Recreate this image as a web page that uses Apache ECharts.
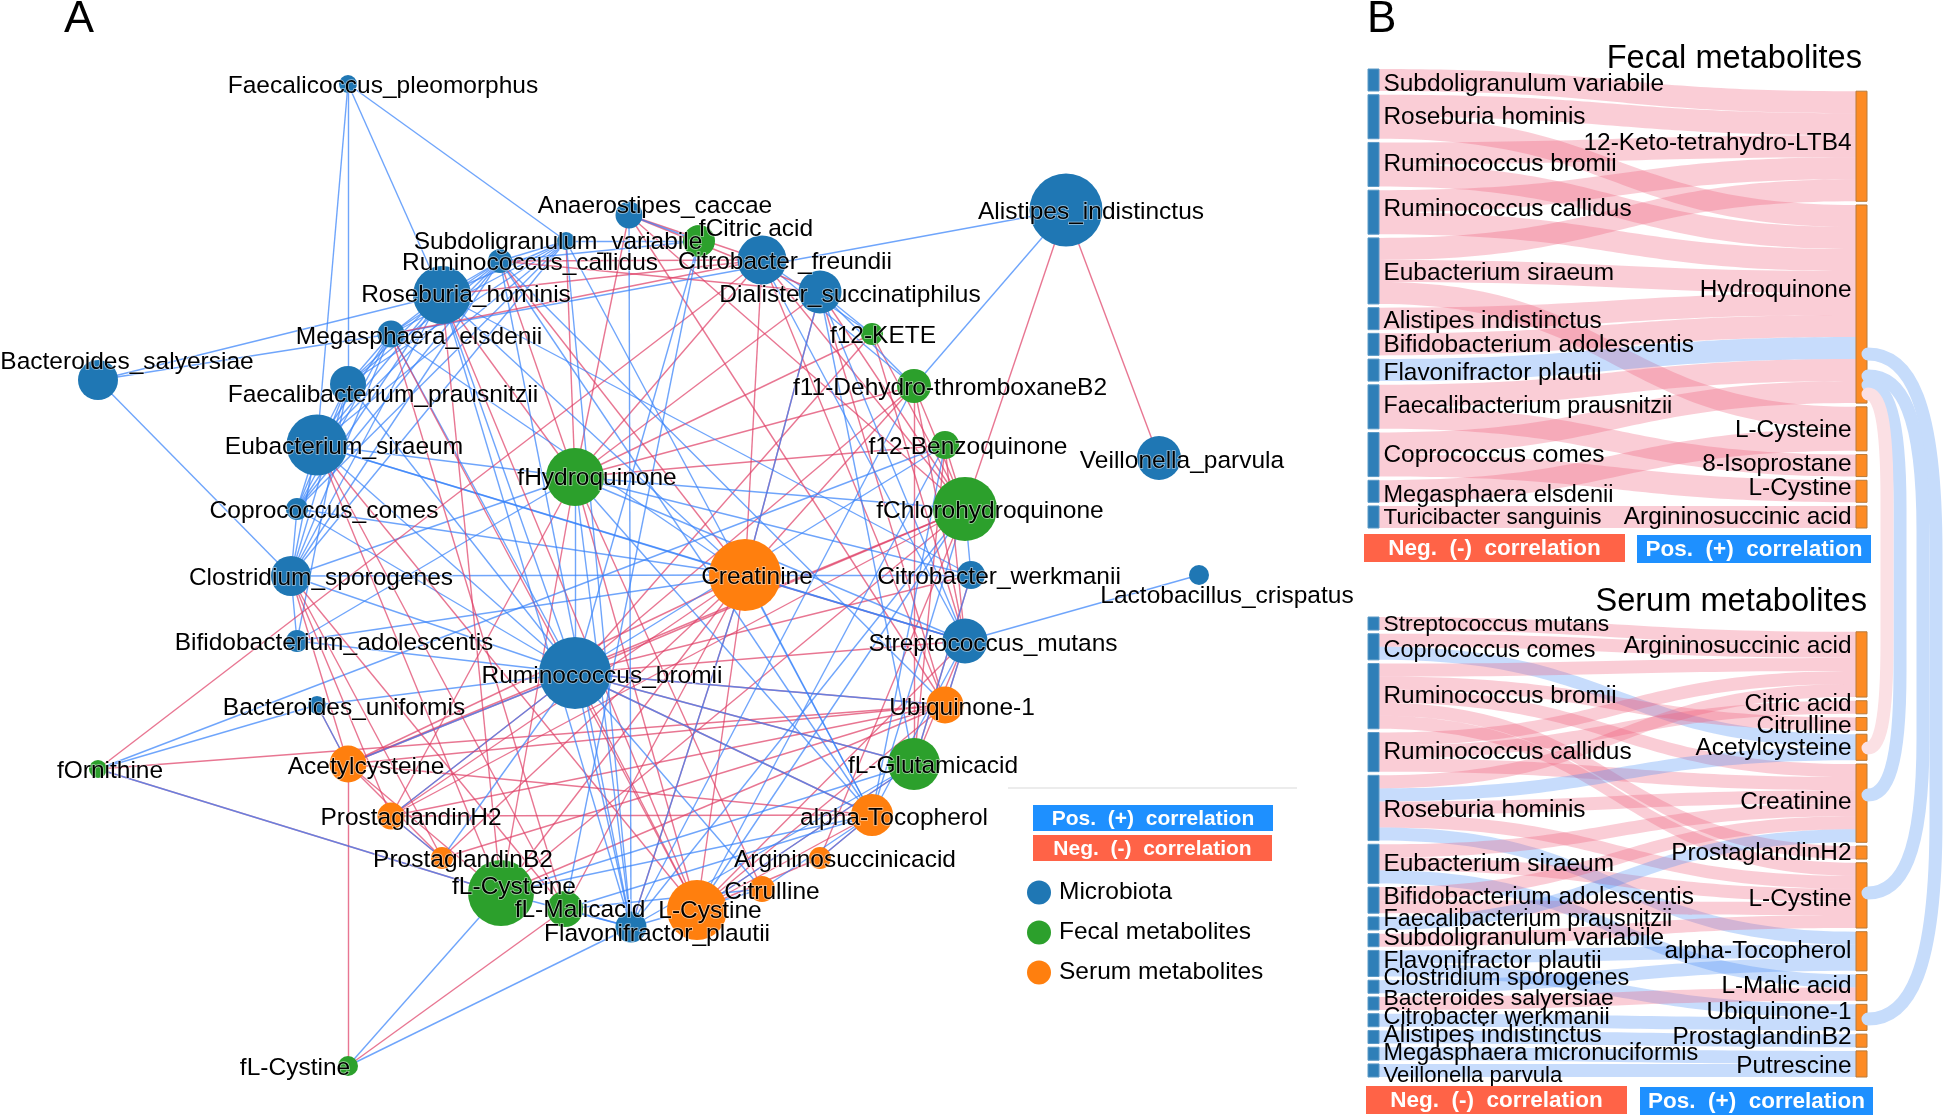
<!DOCTYPE html>
<html><head><meta charset="utf-8">
<style>html,body{margin:0;background:#fff}#c{width:1944px;height:1118px}</style>
<script src="https://cdn.jsdelivr.net/npm/echarts@6/dist/echarts.min.js"></script>
</head><body><div id="c"></div>
<script>
// ---------- Panel A: network ----------
const groupNames = ['Microbiota','Fecal metabolites','Serum metabolites'];
const nodeKeys = ['Fp','An','Sv','Rc','Rh','Me','Bs','Fa','Es','Cc','Cs','Ba','Bu','Rb','Fl','Cf','Ds','Ai','Vp','Cw','Lc','Sm',
  'fHq','fCi','f12K','f11','f12B','fCh','fGl','fCy','fMa','fLC','fOr',
  'Cr','Ub','At','Ar','Ci','Ly','Pb','Ph','Ac'];
const nodeNames = ['Faecalicoccus_pleomorphus','Anaerostipes_caccae','Subdoligranulum_variabile','Ruminococcus_callidus','Roseburia_hominis','Megasphaera_elsdenii','Bacteroides_salyersiae','Faecalibacterium_prausnitzii','Eubacterium_siraeum','Coprococcus_comes','Clostridium_sporogenes','Bifidobacterium_adolescentis','Bacteroides_uniformis','Ruminococcus_bromii','Flavonifractor_plautii','Citrobacter_freundii','Dialister_succinatiphilus','Alistipes_indistinctus','Veillonella_parvula','Citrobacter_werkmanii','Lactobacillus_crispatus','Streptococcus_mutans',
  'fHydroquinone','fCitric acid','f12-KETE','f11-Dehydro-thromboxaneB2','f12-Benzoquinone','fChlorohydroquinone','fL-Glutamicacid','fL-Cysteine','fL-Malicacid','fL-Cystine','fOrnithine',
  'Creatinine','Ubiquinone-1','alpha-Tocopherol','Argininosuccinicacid','Citrulline','L-Cystine','ProstaglandinB2','ProstaglandinH2','Acetylcysteine'];
const nodeGroup = [0,0,0,0,0,0,0,0,0,0,0,0,0,0,0,0,0,0,0,0,0,0, 1,1,1,1,1,1,1,1,1,1,1, 2,2,2,2,2,2,2,2,2];
const nodeSize = [18,27,18,24,58,27,40,36,61,22,40,22,18,72,31,49,43,73,44,28,20,45, 58,32,22,34,28,64,52,66,36,20,18, 72,37,42,22,26,60,22,27,37];
const nodeX = [348,629,566,500,442,391,98,348,317,297,291,297,317,575,631,762,820,1066,1159,971,1199,965, 575,699,872,914,945,965,914,501,565,348,98, 745,945,872,820,762,697,442,391,348];
const nodeY = [84,215,241,261,295,334,380,384,445,509,576,641,705,673,927,260,292,210,458,575,575,641, 477,241,334,386,445,509,764,893,909,1066,769, 575,705,815,858,889,910,858,816,764];
const labelX = [383,655,558,530,466,419,127,383,344,324,321,334,344,602,657,785,850,1091,1182,999,1227,993, 597,756,883,950,968,990,933,514,580,295,110, 757,962,894,845,772,710,463,411,366];
const labelY = [86,206,242,263,295,337,362,395,447,511,578,643,708,676,934,262,295,212,461,577,596,644, 478,229,336,388,447,511,766,887,910,1068,771, 577,708,818,860,892,911,860,818,767];

const posEdges = ('Fp-Sv Fp-Rh Fp-Fa Fp-Es Sv-Rc Sv-Rh Sv-Me Sv-Fa Sv-Es Sv-Cc Sv-Cs Rc-Rh Rc-Me Rc-Fa Rc-Es Rc-Cc Rc-Cs Rh-Me Rh-Fa Rh-Es Rh-Cc Rh-Cs Rh-Bs '+
 'Me-Fa Me-Es Me-Cc Me-Cs Me-Bs Me-Ai Fa-Es Fa-Cc Fa-Cs Es-Cc Es-Cs Cc-Cs Cs-Ba Cs-Bs Fa-Ba Rb-Cs Rb-Es Rb-Cc Rb-Fa Rb-Ba Rb-Bu Rb-Rh Rb-Me Rb-Ac Rb-Ph '+
 'Cw-Cr Cw-fCh Cw-Rh Cw-fHq Sm-Lc Sm-Cr Sm-Es Sm-Ds Sm-Cf Sm-fHq fCh-fHq fCh-Ly fCh-Fl fCh-At f12B-Rb f12B-fOr f12B-At f12B-Ly f11-Ai f11-Cf f11-Ds f11-Fl '+
 'f12K-Ds f12K-Cf fHq-Cs fHq-Es fHq-Fl fHq-Rb fHq-At fHq-Ba Cr-Fl Cr-Cs Cr-Ba Cr-Es Cr-Rh Cr-Me Cr-At Cr-Cc Cr-Ds fGl-Ly fGl-Rb fGl-Fl fGl-Cw fGl-Ds fGl-fCy '+
 'At-Rb At-fCy At-Sm At-fMa At-Rc At-Sv Ub-Rb Ub-Sm Ub-Rc Ci-At Ci-Rb Ci-fMa Ci-Fl Ar-At Fl-Rb Fl-Sv Fl-Rh Fl-Rc Fl-An fCy-Fl fMa-Fl fLC-fCy fLC-Fl Bu-Ac Ph-Pb Pb-Rb '+
 'fOr-Bu fOr-fCy fCi-An fCi-Sv fCi-Rc fCi-Rb fCi-fMa').split(' ');
const negEdges = ('fHq-Rh fHq-Rc fHq-Sv fHq-An fHq-Cf fHq-Ds fHq-f12B fHq-f11 fHq-f12K fHq-Ph fHq-fCy fHq-Ly fHq-Ci '+
 'fCh-Ai fCh-f12K fCh-f11 fCh-f12B fCh-Cf fCh-Ds fCh-An fCh-Rb fCh-fCy fCh-Ar fCh-Ac fCh-Ph '+
 'Cr-Ac Cr-Ph Cr-Pb Cr-fCy Cr-fMa Cr-Ly Cr-Ds Cr-Cf Cr-f11 Cr-Sm Cr-Fl Cr-Rc '+
 'Rb-Ac Rb-Ub Rb-Ph Rb-Ly Rb-At Rb-fGl Rb-Sm Rb-Cw Rb-f12K Rb-f11 Ub-fOr Ub-Ac Ub-Ph Ub-Pb Ub-fCy Ub-Ly Ub-An Ub-Cf Ub-Ds '+
 'fGl-Sm fGl-Cw fGl-f12B fGl-f11 fGl-Ly At-Ly At-Ac At-Ph At-Ar Ar-Ly Sm-f12K Sm-f11 Sm-f12B Sm-Ub Sm-Ly Ac-Pb Ph-Pb Ac-fCy Ac-Cs Ac-Bu '+
 'Vp-Ai An-Cf An-Ds Rc-Cf Rc-Ds Me-Cf Rh-Cf Me-fMa Me-Ly Es-fMa Es-Ly Es-fCy Cs-Pb Cs-Ph Cs-fMa Rh-Ly Rh-fCy fOr-Cf fOr-fCy fLC-Ac fLC-fMa').split(' ');

// ---------- Panel B: Sankey diagrams (value 1 per link, sign = correlation) ----------
const fecalLeft = ['Subdoligranulum variabile','Roseburia hominis','Ruminococcus bromii','Ruminococcus callidus','Eubacterium siraeum','Alistipes indistinctus','Bifidobacterium adolescentis','Flavonifractor plautii','Faecalibacterium prausnitzii','Coprococcus comes','Megasphaera elsdenii','Turicibacter sanguinis'];
const fecalRight = ['12-Keto-tetrahydro-LTB4','Hydroquinone','L-Cysteine','8-Isoprostane','L-Cystine','Argininosuccinic acid'];
const fecalLinks = [[0,0,-1],[1,0,-1],[1,1,-1],[2,0,-1],[2,1,-1],[3,0,-1],[3,1,-1],[4,0,-1],[4,1,-1],[4,2,-1],[5,1,-1],[6,1,-1],[7,1,1],[8,1,-1],[8,3,-1],[9,1,-1],[9,4,-1],[10,2,-1],[11,5,-1]];
const fecalLeftDy = [4,1,0,-3,2,3,1,3,0,1,4,1];
const fecalRightDy = [-3,-14,1,-1,-3,0];
const fecalLeftFont = [24.4,24.4,24.4,24.4,24.4,24.4,24.4,24.4,23.3,24.4,23.5,22.5];

const serumLeft = ['Streptococcus mutans','Coprococcus comes','Ruminococcus bromii','Ruminococcus callidus','Roseburia hominis','Eubacterium siraeum','Bifidobacterium adolescentis','Faecalibacterium prausnitzii','Subdoligranulum variabile','Flavonifractor plautii','Clostridium sporogenes','Bacteroides salyersiae','Citrobacter werkmanii','Alistipes indistinctus','Megasphaera micronuciformis','Veillonella parvula'];
const serumRight = ['Argininosuccinic acid','Citric acid','Citrulline','Acetylcysteine','Creatinine','ProstaglandinH2','L-Cystine','alpha-Tocopherol','L-Malic acid','Ubiquinone-1','ProstaglandinB2','Putrescine'];
const serumLinks = [[0,0,-1],[1,0,-1],[1,3,1],[2,0,-1],[2,2,-1],[2,4,-1],[2,5,-1],[2,6,-1],[3,0,-1],[3,1,-1],[3,4,-1],[4,0,-1],[4,3,1],[4,4,-1],[4,6,-1],[4,7,1],[5,4,-1],[5,6,-1],[5,8,1],[6,4,-1],[6,6,-1],[7,4,1],[8,6,-1],[9,7,1],[9,9,1],[10,7,1],[11,8,-1],[12,9,1],[13,10,1],[14,11,1],[15,11,1]];
const serumLeftDy = [1,4,0,0,2,0,-3,-4,-1.5,-2.5,-8,-5,-3,-2,-0.5,5];
const serumRightDy = [-18,-3,2,1,-1,1,4,0,-1,-5,-3,2];
const serumLeftFont = [22.8,23.4,24.4,24.4,24.4,24.4,24.4,23.3,24.4,24.4,23.4,22.9,23.4,24.4,23.5,22.2];

// Shared metabolites linking the fecal and serum panels: [fecal y, serum y, arc x, sign]
const crossLinks = [[354,1019,1936,1],[376,893,1923,1],[385,795,1900,1],[394,748,1887,-1]];

// ---------- Styles ----------
const groupColors = ['#1f77b4','#2ca02c','#ff7f0e'];
const edgeBlue = 'rgba(55,130,250,0.72)', edgeRed = 'rgba(222,60,100,0.7)';
const bandPink = 'rgb(240,90,120)', bandBlue = 'rgb(70,140,245)';
const font = '"Liberation Sans", Arial, sans-serif';

const graphNodes = nodeKeys.map((k,i)=>({
  id:k, name:nodeNames[i], value:[nodeX[i],nodeY[i]], category:nodeGroup[i], symbolSize:nodeSize[i],
  label:{show:true, position:'inside', offset:[labelX[i]-nodeX[i],labelY[i]-nodeY[i]], formatter:nodeNames[i],
    color:'#000', fontFamily:font, fontSize:24.5, textBorderColor:'rgba(255,255,255,0.55)', textBorderWidth:1.5}
}));
const toLink = (s,color)=>{const [a,b]=s.split('-');return {source:a,target:b,lineStyle:{color,width:1.4,opacity:1,curveness:0}}};
// Positive and negative edges are interleaved so neither colour sits wholly on top.
const graphLinks = [];
for(let i=0;i<Math.max(posEdges.length,negEdges.length);i++){
  if(i<negEdges.length) graphLinks.push(toLink(negEdges[i],edgeRed));
  if(i<posEdges.length) graphLinks.push(toLink(posEdges[i],edgeBlue));
}

function sankey(left,right,links,leftDy,rightDy,leftFont,top,height){
  const gap=3.7, w=499, nw=11;
  const count=(arr,j)=>links.filter(l=>l[j]===arr).length;
  const total=links.length;
  const ky=(height-(left.length-1)*gap)/total;
  const rightH=total*ky+(right.length-1)*gap;
  const start=height-rightH; let cum=0;
  const nodes=[];
  left.forEach((n,i)=>nodes.push({name:'L:'+n,depth:0,itemStyle:{color:'#2f7fb8',borderColor:'#5d9ac6',borderWidth:1},
    label:{position:'right',distance:4,offset:[0,leftDy[i]],formatter:n,fontSize:leftFont[i]}}));
  right.forEach((n,i)=>{
    const y=start+cum*ky+i*gap; cum+=count(i,1);
    nodes.push({name:'R:'+n,depth:1,localY:y/height,itemStyle:{color:'#fd8b24',borderColor:'#b87a3a',borderWidth:1},
      label:{position:'left',distance:4,offset:[0,rightDy[i]],formatter:n}});
  });
  return {type:'sankey',left:1368,top,width:w,height,nodeWidth:nw,nodeGap:gap,layoutIterations:0,orient:'horizontal',
    silent:true,animation:false,draggable:false,emphasis:{disabled:true},z:3,
    label:{show:true,color:'#000',fontFamily:font,fontSize:24.4},
    data:nodes,
    links:links.map(l=>({source:'L:'+left[l[0]],target:'R:'+right[l[1]],value:1,
      lineStyle:{color:l[2]>0?bandBlue:bandPink,opacity:0.3,curveness:0.5}}))
  };
}
const box=(x,y,w,h,fill,text,size)=>[
  {type:'rect',shape:{x,y,width:w,height:h},style:{fill},z:5},
  {type:'text',x:x+w/2,y:y+h/2+1,style:{text,fill:'#fff',font:'bold '+size+'px '+font,align:'center',verticalAlign:'middle'},z:6}
];
const txt=(x,y,text,size,align)=>({type:'text',x,y,style:{text,fill:'#000',font:size+'px '+font,align:align||'left',verticalAlign:'middle'},z:6});

const chart=echarts.init(document.getElementById('c'),null,{renderer:'canvas'});
chart.setOption({
  backgroundColor:'#fff',animation:false,
  grid:{left:0,right:0,top:0,bottom:0},
  xAxis:{type:'value',min:0,max:1944,show:false},
  yAxis:{type:'value',min:0,max:1118,inverse:true,show:false},
  legend:{orient:'vertical',left:1022,top:875,itemWidth:24,itemHeight:24,itemGap:15,icon:'circle',
    data:groupNames,selectedMode:false,textStyle:{fontFamily:font,fontSize:24.5,color:'#000',padding:[0,0,0,3]}},
  graphic:[].concat(
    [txt(64,20,'A',45),txt(1367,20,'B',44),
     txt(1862,59,'Fecal metabolites',32.6,'right'),txt(1867,602,'Serum metabolites',32.6,'right'),
     {type:'line',shape:{x1:1008,y1:788,x2:1297,y2:788},style:{stroke:'#e6e6e6',lineWidth:1.5},z:5}],
    box(1033,805,240,26,'#1e90ff','Pos.  (+)  correlation',21),
    box(1033,835,239,26,'#ff6347','Neg.  (-)  correlation',21),
    box(1364,534,261,28,'#ff6347','Neg.  (-)  correlation',22.5),
    box(1637,535,234,28,'#1e90ff','Pos.  (+)  correlation',22.5),
    box(1366,1086,261,28,'#ff6347','Neg.  (-)  correlation',22.5),
    box(1640,1087,233,28,'#1e90ff','Pos.  (+)  correlation',22.5)
  ),
  series:[
    {type:'graph',coordinateSystem:'cartesian2d',layout:'none',silent:true,animation:false,z:2,
     categories:groupNames.map((n,i)=>({name:n,itemStyle:{color:groupColors[i]}})),
     data:graphNodes,links:graphLinks,edgeSymbol:['none','none'],emphasis:{disabled:true}},
    sankey(fecalLeft,fecalRight,fecalLinks,fecalLeftDy,fecalRightDy,fecalLeftFont,69,459),
    sankey(serumLeft,serumRight,serumLinks,serumLeftDy,serumRightDy,serumLeftFont,617,460),
    {type:'custom',coordinateSystem:'cartesian2d',silent:true,z:4,clip:false,
     data:crossLinks,encode:{x:2,y:0},
     renderItem:(p,api)=>{
       const y0=api.value(0),y1=api.value(1),xb=api.value(2),d=y1-y0,x0=1868;
       const P=(x,y)=>api.coord([x,y]).join(' ');
       const xc=x0+(xb-x0)*0.6;
       const path='M'+P(x0,y0)+' C'+P(xc,y0)+' '+P(xb,y0+d*0.07)+' '+P(xb,y0+d*0.3)+
         ' L'+P(xb,y0+d*0.7)+' C'+P(xb,y1-d*0.07)+' '+P(xc,y1)+' '+P(x0,y1);
       return {type:'path',shape:{pathData:path},
         style:{fill:null,stroke:api.value(3)>0?'#c6dcfb':'#fbe0e4',lineWidth:13,lineCap:'round'}};
     }}
  ]
});
</script></body></html>
